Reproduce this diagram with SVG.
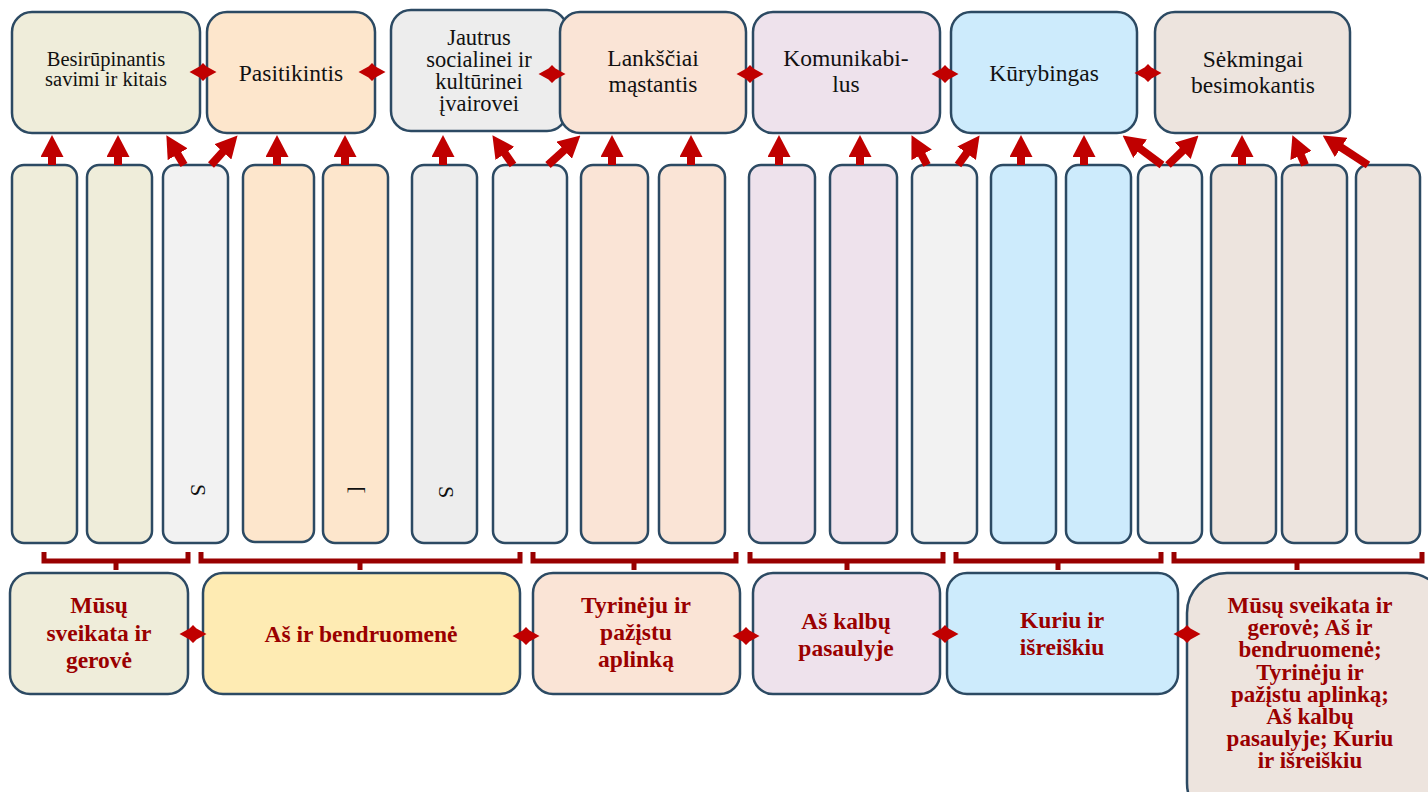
<svg xmlns="http://www.w3.org/2000/svg" width="1428" height="792" viewBox="0 0 1428 792">
<style>
.box{stroke:#2C4A63;stroke-width:2.5}
.t{font-family:"Liberation Serif","Times New Roman",serif;fill:#111;text-anchor:middle}
.top{font-size:23.5px}
.b{font-family:"Liberation Serif","Times New Roman",serif;font-weight:bold;font-size:23.5px;fill:#9A0000;text-anchor:middle}
.beige{fill:#EFEDDA}.peach{fill:#FDE6CC}.grey{fill:#EDEDED}.lgrey{fill:#F2F2F2}.pink{fill:#FAE4D6}.lav{fill:#EEE2EC}.blue{fill:#CDEBFC}.tan{fill:#EDE4DE}.yel{fill:#FEEBB3}
.up{stroke:#C00000;stroke-width:8;fill:none;marker-end:url(#ah)}
.br{stroke:#990000;stroke-width:5;fill:none}
.dbl{fill:#C00000}
</style>
<defs>
<marker id="ah" viewBox="0 0 22 23" refX="1" refY="11.5" markerWidth="22" markerHeight="23" markerUnits="userSpaceOnUse" orient="auto">
<path d="M0,0 L22,11.5 L0,23 Z" fill="#C00000"/>
</marker>
<path id="dA" d="M-13.5,0 L-3.5,-5.5 L0,-9 L3.5,-5.5 L13.5,0 L3.5,5.5 L0,9 L-3.5,5.5 Z"/>
</defs>

<!-- top nodes -->
<g id="n-besirupinantis"><rect class="box beige" x="12" y="12" width="188" height="121" rx="20"/>
<text class="t" font-size="20.5"><tspan x="106" y="66">Besirūpinantis</tspan><tspan x="106" y="86">savimi ir kitais</tspan></text></g>
<g id="n-pasitikintis"><rect class="box peach" x="207" y="12" width="168" height="121" rx="20"/>
<text class="t top" x="291" y="81">Pasitikintis</text></g>
<g id="n-jautrus"><rect class="box grey" x="391" y="10" width="176" height="121" rx="20"/>
<text class="t" font-size="22.5"><tspan x="479" y="45">Jautrus</tspan><tspan x="479" y="67">socialinei ir</tspan><tspan x="479" y="89">kultūrinei</tspan><tspan x="479" y="111">įvairovei</tspan></text></g>
<g id="n-lanksciai"><rect class="box pink" x="560" y="12" width="186" height="121" rx="20"/>
<text class="t top"><tspan x="653" y="66">Lankščiai</tspan><tspan x="653" y="92">mąstantis</tspan></text></g>
<g id="n-komunikabilus"><rect class="box lav" x="753" y="12" width="187" height="121" rx="20"/>
<text class="t top"><tspan x="846" y="66">Komunikabi-</tspan><tspan x="846" y="92">lus</tspan></text></g>
<g id="n-kurybingas"><rect class="box blue" x="951" y="12" width="186" height="121" rx="20"/>
<text class="t top" x="1044" y="81">Kūrybingas</text></g>
<g id="n-sekmingai"><rect class="box tan" x="1155" y="12" width="195" height="121" rx="20"/>
<text class="t top"><tspan x="1253" y="67">Sėkmingai</tspan><tspan x="1253" y="93">besimokantis</tspan></text></g>

<!-- columns -->
<g id="col-1"><rect class="box beige" x="12" y="165" width="65" height="378" rx="12"/></g>
<g id="col-2"><rect class="box beige" x="87" y="165" width="65" height="378" rx="12"/></g>
<g id="col-3"><rect class="box lgrey" x="163" y="165" width="65" height="378" rx="12"/>
<text class="t" font-size="22" transform="translate(198,490) rotate(90)" dominant-baseline="central">S</text></g>
<g id="col-4"><rect class="box peach" x="243" y="165" width="71" height="377" rx="12"/></g>
<g id="col-5"><rect class="box peach" x="323" y="165" width="65" height="378" rx="12"/>
<text class="t" font-size="21" transform="translate(358,490) rotate(90)" dominant-baseline="central">[</text></g>
<g id="col-6"><rect class="box grey" x="412" y="165" width="65" height="378" rx="12"/>
<text class="t" font-size="22" transform="translate(446,492) rotate(90)" dominant-baseline="central">S</text></g>
<g id="col-7"><rect class="box lgrey" x="493" y="165" width="74" height="378" rx="12"/></g>
<g id="col-8"><rect class="box pink" x="581" y="165" width="67" height="378" rx="12"/></g>
<g id="col-9"><rect class="box pink" x="659" y="165" width="66" height="378" rx="12"/></g>
<g id="col-10"><rect class="box lav" x="749" y="165" width="66" height="378" rx="12"/></g>
<g id="col-11"><rect class="box lav" x="830" y="165" width="67" height="378" rx="12"/></g>
<g id="col-12"><rect class="box lgrey" x="912" y="165" width="65" height="378" rx="12"/></g>
<g id="col-13"><rect class="box blue" x="991" y="165" width="65" height="378" rx="12"/></g>
<g id="col-14"><rect class="box blue" x="1066" y="165" width="65" height="378" rx="12"/></g>
<g id="col-15"><rect class="box lgrey" x="1138" y="165" width="64" height="378" rx="12"/></g>
<g id="col-16"><rect class="box tan" x="1211" y="165" width="65" height="378" rx="12"/></g>
<g id="col-17"><rect class="box tan" x="1282" y="165" width="65" height="378" rx="12"/></g>
<g id="col-18"><rect class="box tan" x="1356" y="165" width="64" height="378" rx="12"/></g>

<!-- bottom nodes -->
<g id="m-sveikata"><rect class="box beige" x="10" y="573" width="178" height="121" rx="20"/>
<text class="b"><tspan x="99" y="613">Mūsų</tspan><tspan x="99" y="641">sveikata ir</tspan><tspan x="99" y="668">gerovė</tspan></text></g>
<g id="m-bendruomene"><rect class="box yel" x="203" y="573" width="317" height="121" rx="20"/>
<text class="b" x="361" y="642">Aš ir bendruomenė</text></g>
<g id="m-tyrineju"><rect class="box pink" x="533" y="573" width="207" height="121" rx="20"/>
<text class="b"><tspan x="636" y="613">Tyrinėju ir</tspan><tspan x="636" y="640">pažįstu</tspan><tspan x="636" y="667">aplinką</tspan></text></g>
<g id="m-kalbu"><rect class="box lav" x="753" y="573" width="187" height="121" rx="20"/>
<text class="b"><tspan x="846" y="629">Aš kalbų</tspan><tspan x="846" y="656">pasaulyje</tspan></text></g>
<g id="m-kuriu"><rect class="box blue" x="947" y="573" width="231" height="121" rx="20"/>
<text class="b"><tspan x="1062" y="628">Kuriu ir</tspan><tspan x="1062" y="655">išreiškiu</tspan></text></g>
<g id="m-visos"><rect class="box tan" x="1187" y="573" width="260" height="250" rx="40"/>
<text class="b" style="font-size:23px"><tspan x="1310" y="613">Mūsų sveikata ir</tspan><tspan x="1310" y="635">gerovė; Aš ir</tspan><tspan x="1310" y="657">bendruomenė;</tspan><tspan x="1310" y="680">Tyrinėju ir</tspan><tspan x="1310" y="702">pažįstu aplinką;</tspan><tspan x="1310" y="724">Aš kalbų</tspan><tspan x="1310" y="746">pasaulyje; Kuriu</tspan><tspan x="1310" y="768">ir išreiškiu</tspan></text></g>

<!-- connectors -->
<g id="connectors">
<path class="up" d="M52,165 V156"/>
<path class="up" d="M118,165 V156"/>
<path class="up" d="M184,165 L177.1,153.4"/>
<path class="up" d="M211,165 L223.5,151.1"/>
<path class="up" d="M277,165 V156"/>
<path class="up" d="M345,165 V156"/>
<path class="up" d="M443,165 V156"/>
<path class="up" d="M513,165 L504.4,152.6"/>
<path class="up" d="M548,165 L564.9,149.6"/>
<path class="up" d="M612,165 V156"/>
<path class="up" d="M691,165 V156"/>
<path class="up" d="M779,165 V156"/>
<path class="up" d="M860,165 V156"/>
<path class="up" d="M927,165 L921.2,153.9"/>
<path class="up" d="M958,165 L967.2,152.4"/>
<path class="up" d="M1021,165 V156"/>
<path class="up" d="M1084,165 V156"/>
<path class="up" d="M1162,165 L1139.4,148.1"/>
<path class="up" d="M1168,165 L1183.4,150.1"/>
<path class="up" d="M1242,165 V156"/>
<path class="up" d="M1305,165 L1300.6,154.6"/>
<path class="up" d="M1368,165 L1340.3,146.9"/>

<use href="#dA" class="dbl" x="203" y="72"/>
<use href="#dA" class="dbl" x="372" y="72"/>
<use href="#dA" class="dbl" x="552" y="74"/>
<use href="#dA" class="dbl" x="750" y="74"/>
<use href="#dA" class="dbl" x="945" y="74"/>
<use href="#dA" class="dbl" x="1148" y="73"/>

<use href="#dA" class="dbl" x="193" y="634"/>
<use href="#dA" class="dbl" x="526" y="636"/>
<use href="#dA" class="dbl" x="746" y="636"/>
<use href="#dA" class="dbl" x="945" y="634"/>
<use href="#dA" class="dbl" x="1187" y="634"/>

<path class="br" d="M44,552 V561 H188 V552 M116,561 V570"/>
<path class="br" d="M201,552 V561 H520 V552 M360,561 V570"/>
<path class="br" d="M533,552 V561 H736 V552 M634,561 V570"/>
<path class="br" d="M750,552 V561 H943 V552 M847,561 V570"/>
<path class="br" d="M956,552 V561 H1161 V552 M1058,561 V570"/>
<path class="br" d="M1174,552 V561 H1422 V552 M1297,561 V570"/>
</g>
</svg>
